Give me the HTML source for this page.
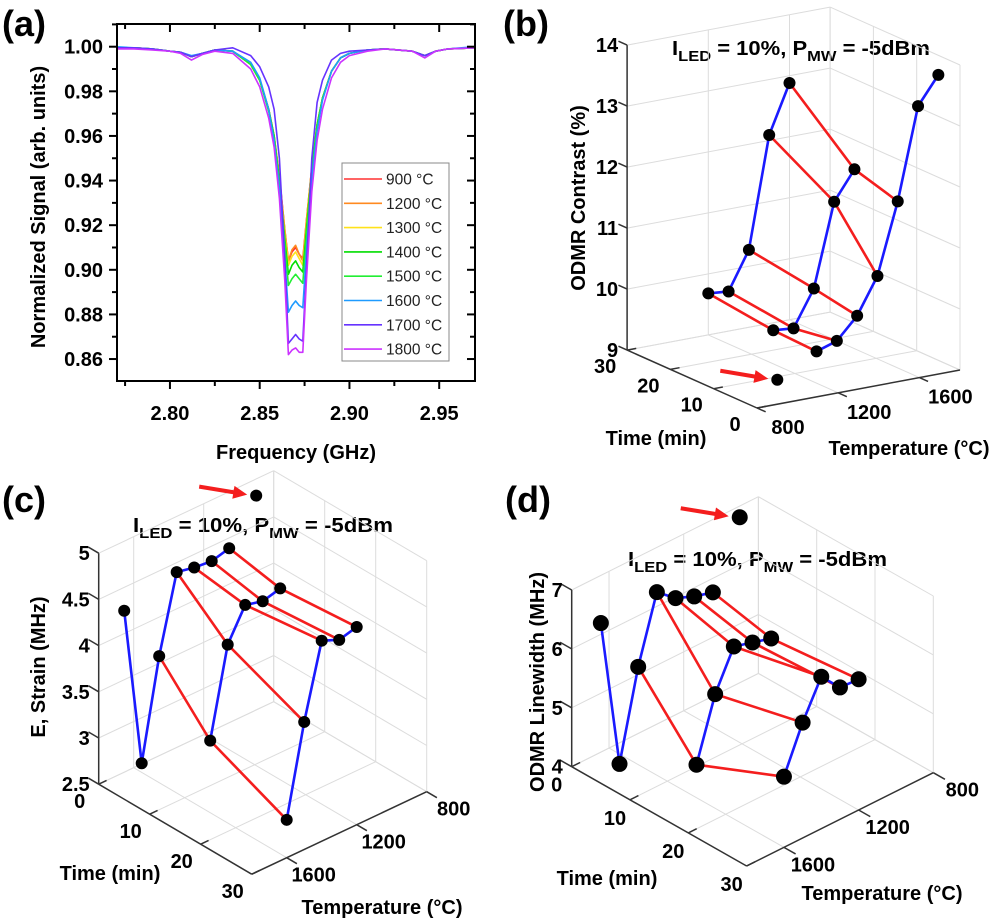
<!DOCTYPE html>
<html><head><meta charset="utf-8"><style>
html,body{margin:0;padding:0;background:#fff;}
svg{display:block;font-family:"Liberation Sans",Arial,sans-serif;}
</style></head><body>
<svg id="fig" width="996" height="921" viewBox="0 0 996 921" xmlns="http://www.w3.org/2000/svg">
<defs><clipPath id="clipA"><rect x="117" y="24" width="358" height="357"/></clipPath></defs>
<text x="2" y="36" font-size="36" font-weight="bold">(a)</text>
<text x="503" y="36" font-size="36" font-weight="bold">(b)</text>
<text x="2" y="512" font-size="36" font-weight="bold">(c)</text>
<text x="505" y="512" font-size="36" font-weight="bold">(d)</text>
<text x="296" y="459" font-size="20" font-weight="bold" text-anchor="middle">Frequency (GHz)</text>
<text x="0" y="0" transform="translate(45,207) rotate(-90)" font-size="20" font-weight="bold" text-anchor="middle">Normalized Signal (arb. units)</text>
<text x="672" y="55" font-size="20" font-weight="bold" textLength="258" lengthAdjust="spacingAndGlyphs">I<tspan dy="6" font-size="15">LED</tspan><tspan dy="-6"> = 10%, P</tspan><tspan dy="6" font-size="15">MW</tspan><tspan dy="-6"> = -5dBm</tspan></text>
<text x="133" y="532" font-size="20" font-weight="bold" textLength="260" lengthAdjust="spacingAndGlyphs">I<tspan dy="6" font-size="15">LED</tspan><tspan dy="-6"> = 10%, P</tspan><tspan dy="6" font-size="15">MW</tspan><tspan dy="-6"> = -5dBm</tspan></text>
<text x="628" y="566" font-size="20" font-weight="bold" textLength="259" lengthAdjust="spacingAndGlyphs">I<tspan dy="6" font-size="15">LED</tspan><tspan dy="-6"> = 10%, P</tspan><tspan dy="6" font-size="15">MW</tspan><tspan dy="-6"> = -5dBm</tspan></text>
<text transform="translate(585,198) rotate(-90)" font-size="20" font-weight="bold" text-anchor="middle">ODMR Contrast (%)</text>
<text x="656" y="445" font-size="20" font-weight="bold" text-anchor="middle">Time (min)</text>
<text x="909" y="455" font-size="20" font-weight="bold" text-anchor="middle">Temperature (°C)</text>
<text transform="translate(45,667) rotate(-90)" font-size="20" font-weight="bold" text-anchor="middle">E, Strain (MHz)</text>
<text x="110" y="880" font-size="20" font-weight="bold" text-anchor="middle">Time (min)</text>
<text x="382" y="914" font-size="20" font-weight="bold" text-anchor="middle">Temperature (°C)</text>
<text transform="translate(544,682) rotate(-90)" font-size="20" font-weight="bold" text-anchor="middle">ODMR Linewidth (MHz)</text>
<text x="607" y="885" font-size="20" font-weight="bold" text-anchor="middle">Time (min)</text>
<text x="882" y="900" font-size="20" font-weight="bold" text-anchor="middle">Temperature (°C)</text>
</svg>
<script>
// ---------- Panel (a) data ----------
const freqGHz=[2.770,2.780,2.790,2.800,2.806,2.812,2.818,2.825,2.835,2.845,2.850,2.855,2.858,2.861,2.864,2.866,2.868,2.870,2.872,2.874,2.876,2.879,2.882,2.885,2.890,2.895,2.900,2.910,2.920,2.935,2.942,2.948,2.955,2.970];
const s900 =[.9995,.9995,.999,.998,.9975,.9955,.997,.9985,.998,.992,.985,.972,.960,.942,.918,.904,.908,.910,.907,.905,.922,.946,.965,.977,.989,.995,.997,.9985,.999,.998,.996,.998,.999,.9995];
const s1200=[.9995,.9995,.999,.998,.9975,.9955,.997,.9985,.998,.992,.985,.972,.960,.942,.918,.904,.909,.911,.907,.904,.922,.946,.965,.977,.989,.995,.997,.9985,.999,.998,.996,.998,.999,.9995];
const s1300=[.9995,.9995,.999,.998,.9975,.9955,.997,.9985,.998,.992,.985,.972,.960,.941,.916,.902,.906,.908,.905,.902,.920,.946,.965,.977,.989,.995,.997,.9985,.999,.998,.996,.998,.999,.9995];
const s1400=[.9995,.9995,.999,.998,.9975,.9955,.997,.9985,.998,.992,.985,.972,.960,.940,.914,.898,.902,.904,.901,.899,.918,.945,.965,.977,.989,.995,.997,.9985,.999,.998,.996,.998,.999,.9995];
const s1500=[.9995,.9995,.999,.998,.9975,.9955,.997,.9985,.998,.992,.985,.971,.959,.939,.912,.893,.896,.898,.896,.894,.915,.944,.964,.977,.989,.995,.997,.9985,.999,.998,.996,.998,.999,.9995];
const s1600=[1.000,.9995,.999,.998,.9975,.9960,.997,.9985,.998,.993,.986,.972,.958,.936,.905,.881,.884,.886,.884,.883,.908,.940,.962,.976,.989,.995,.997,.9985,.999,.998,.996,.998,.999,1.000];
const s1700=[.9995,.9995,.999,.998,.9975,.9955,.997,.9985,.9995,.996,.991,.982,.972,.950,.905,.867,.869,.871,.869,.868,.900,.950,.975,.985,.994,.997,.998,.9985,.999,.998,.996,.998,.999,.9995];
const s1800=[.9990,.9990,.9985,.998,.997,.994,.9965,.998,.997,.990,.982,.968,.955,.932,.895,.862,.864,.865,.863,.863,.895,.935,.958,.972,.986,.993,.996,.998,.999,.998,.995,.998,.999,.9995];
const seriesA=[s900,s1200,s1300,s1400,s1500,s1600,s1700,s1800];
const seriesLabels=["900 °C","1200 °C","1300 °C","1400 °C","1500 °C","1600 °C","1700 °C","1800 °C"];
const yTicksA=[0.86,0.88,0.90,0.92,0.94,0.96,0.98,1.00];
const xTicksA=[2.80,2.85,2.90,2.95];

// ---------- Panels (b),(c),(d) data ----------
const annealTimes=[5,15,30];
const annealTemps=[1200,1300,1400,1500,1600,1700,1800];
const contrastT5=[9.52,9.63,9.98,10.57,11.73,13.23,13.68];
const contrastT15=[9.55,9.52,10.11,11.47,11.94];
const contrastT30=[9.68,9.65,10.27,12.09,12.88];
const contrastRef=[900,0,9.4];
const strainT5=[4.68,4.63,4.65,4.69,3.87,2.80,4.54];
const strainT15=[4.57,4.52,4.57,4.23,3.28];
const strainT30=[4.64,4.59,4.67,3.88,2.91];
const strainRef=[900,0,4.82];
const widthT5=[6.29,6.38,6.51,6.77,5.66,4.17,6.72];
const widthT15=[6.07,6.16,6.25,5.60,4.56];
const widthT30=[6.22,6.24,6.58,5.96,5.20];
const widthRef=[900,0,6.81];
const tempTickLabels=[800,1200,1600];
const timeTickLabels=[0,10,20,30];
const zTicksB=[9,10,11,12,13,14];
const zTicksC=[2.5,3,3.5,4,4.5,5];
const zTicksD=[4,5,6,7];

const NS='http://www.w3.org/2000/svg';
const svg=document.getElementById('fig');
function mk(tag,attrs,parent){const e=document.createElementNS(NS,tag);for(const k in attrs)e.setAttribute(k,attrs[k]);(parent||svg).appendChild(e);return e;}

// ---------- draw panel (a) ----------
const xA=f=>116.1+(f-2.77)*1795;
const yA=v=>46.7+(1.00-v)*2231;
const colorsA=["#ff3030","#ff8a20","#ffe21a","#00dd00","#22ee33","#1e9bff","#6633ff","#cc33ff"];
const gA=mk('g',{'clip-path':'url(#clipA)'});


seriesA.forEach((s,i)=>{
  const d=s.map((v,j)=>(j?'L':'M')+xA(freqGHz[j]).toFixed(1)+','+yA(v).toFixed(1)).join('');
  const p=mk('path',{d:d,fill:'none',stroke:colorsA[i],'stroke-width':1.6,'stroke-linejoin':'round'},gA);
  
  
});
const frameA=mk('rect',{x:117,y:24,width:358,height:357,fill:'none',stroke:'#000','stroke-width':2});


for(let v=0.86;v<=1.0101;v+=0.01){
  const y=yA(v);const major=Math.abs(Math.round(v*100)%2)===0;const L=major?8:5;
  const t1=mk('line',{x1:117-L,x2:117,y1:y,y2:y,stroke:'#000','stroke-width':2});
  
  
  const t2=mk('line',{x1:475-L,x2:475,y1:y,y2:y,stroke:'#000','stroke-width':2});
  
  
}
yTicksA.forEach(v=>{
  const t=mk('text',{x:103,y:yA(v)+7,'font-size':20,'font-weight':'bold','text-anchor':'end'});t.textContent=v.toFixed(2);
  
  
});
for(let f=2.775;f<2.97;f+=0.025){
  const x=xA(f);const major=Math.abs(Math.round(f*1000)%50)===0;const L=major?8:5;
  const t1=mk('line',{x1:x,x2:x,y1:381,y2:381+L,stroke:'#000','stroke-width':2});
  
  
  const t2=mk('line',{x1:x,x2:x,y1:24,y2:24+L,stroke:'#000','stroke-width':2});
  
  
}
xTicksA.forEach(f=>{
  const t=mk('text',{x:xA(f),y:420,'font-size':20,'font-weight':'bold','text-anchor':'middle'});t.textContent=f.toFixed(2);
  
  
});
const leg=mk('g',{});


const legBox=mk('rect',{x:342,y:163,width:107,height:198,fill:'#fff',stroke:'#888','stroke-width':1},leg);


seriesLabels.forEach((lab,i)=>{
  const y=179+i*24.3;
  const ln=mk('line',{x1:344,x2:382,y1:y,y2:y,stroke:colorsA[i],'stroke-width':1.6},leg);
  
  
  const t=mk('text',{x:386,y:y+5.5,'font-size':15.5,fill:'#222'},leg);t.textContent=lab;
  
  
});

// ---------- 3D panels ----------
function P(p,T,t,z){return [p.ox+p.aT*(T-800)+p.at*t, p.oy+p.bT*(T-800)+p.bt*t-p.zs*(z-p.z0)];}
function seg(p,a,b,attrs,name){const A=P(p,...a),B=P(p,...b);const l=mk('line',Object.assign({x1:A[0],y1:A[1],x2:B[0],y2:B[1]},attrs));return l;}
function draw3d(p,vals,ref,zTicks){
  const g={stroke:'#dcdcdc','stroke-width':1};
  const Tg=[800,1200,1600,1800], tg=[0,10,20,30];
  Tg.forEach(T=>{seg(p,[T,p.wallt,p.z0],[T,p.wallt,p.z1],g,'grid-line');seg(p,[T,0,p.z0],[T,30,p.z0],g,'grid-line');});
  tg.forEach(t=>{seg(p,[p.wallT,t,p.z0],[p.wallT,t,p.z1],g,'grid-line');seg(p,[800,t,p.z0],[1800,t,p.z0],g,'grid-line');});
  zTicks.forEach(z=>{seg(p,[800,p.wallt,z],[1800,p.wallt,z],g,'grid-line');seg(p,[p.wallT,0,z],[p.wallT,30,z],g,'grid-line');});
  const ax={stroke:'#333','stroke-width':1.5};
  seg(p,[p.zT,p.zt,p.z0],[p.zT,p.zt,p.z1],ax,'z-axis');
  seg(p,[p.timeT,0,p.z0],[p.timeT,30,p.z0],ax,'time-axis');
  seg(p,[800,p.tempt,p.z0],[1800,p.tempt,p.z0],ax,'temperature-axis');
  zTicks.forEach(z=>{
    const q=P(p,p.zT,p.zt,z);
    seg(p,[p.zT,p.zt,z],[p.zT,p.zt+p.ztDir*2,z],ax,'z-tick');
    const t=mk('text',{x:q[0]-9,y:q[1]+7,'font-size':20,'font-weight':'bold','text-anchor':'end'});t.textContent=String(z);
    
    
  });
  timeTickLabels.forEach(tv=>{
    const q=P(p,p.timeT,tv,p.z0);
    seg(p,[p.timeT,tv,p.z0],[p.timeT+p.tTickDir*45,tv,p.z0],ax,'time-tick');
    const t=mk('text',{x:q[0]+p.tOff[0],y:q[1]+p.tOff[1]+7,'font-size':20,'font-weight':'bold','text-anchor':'middle'});t.textContent=String(tv);
    
    
  });
  tempTickLabels.forEach(Tv=>{
    const q=P(p,Tv,p.tempt,p.z0);
    seg(p,[Tv,p.tempt,p.z0],[Tv,p.tempt+p.TTickDir*2,p.z0],ax,'temperature-tick');
    const t=mk('text',{x:q[0]+p.TOff[0],y:q[1]+p.TOff[1]+7,'font-size':20,'font-weight':'bold','text-anchor':'middle'});t.textContent=String(Tv);
    
    
  });
  const red={stroke:'#f41e1e','stroke-width':2.6,'stroke-linecap':'round'};
  const blue={stroke:'#1a1aff','stroke-width':2.6,'stroke-linecap':'round'};
  for(let k=0;k<5;k++){
    for(let m=0;m<2;m++){
      seg(p,[annealTemps[k],annealTimes[m],vals[m][k]],[annealTemps[k],annealTimes[m+1],vals[m+1][k]],red,'temperature-link');
    }
  }
  vals.forEach((v,m)=>{
    for(let k=0;k<v.length-1;k++) seg(p,[annealTemps[k],annealTimes[m],v[k]],[annealTemps[k+1],annealTimes[m],v[k+1]],blue,'time-series-line');
  });
  vals.forEach((v,m)=>v.forEach((z,k)=>{
    const q=P(p,annealTemps[k],annealTimes[m],z);
    const c=mk('circle',{cx:q[0],cy:q[1],r:p.r,fill:'#000'});
    
    
  }));
  const q=P(p,ref[0],ref[1],ref[2]);
  const c=mk('circle',{cx:q[0],cy:q[1],r:p.r,fill:'#000'});
  
  
  const ex=q[0]-p.r-3, ey=q[1]-1, sx=ex-48, sy=ey-8;
  const ang=Math.atan2(ey-sy,ex-sx), ca=Math.cos(ang), sa=Math.sin(ang);
  const hx=ex-14*ca, hy=ey-14*sa;
  const pts=[[sx-2*sa,sy+2*ca],[hx-2*sa,hy+2*ca],[hx-6.5*sa,hy+6.5*ca],[ex,ey],[hx+6.5*sa,hy-6.5*ca],[hx+2*sa,hy-2*ca],[sx+2*sa,sy-2*ca]];
  const a=mk('polygon',{points:pts.map(v=>v[0].toFixed(1)+','+v[1].toFixed(1)).join(' '),fill:'#f41e1e'});
  
  
}
const projB={ox:757,oy:408,aT:0.203,at:-4.33,bT:-0.038,bt:-1.93,zs:61,z0:9,z1:14,wallT:1800,wallt:30,zT:800,zt:30,ztDir:1,timeT:800,tTickDir:1,tempt:0,TTickDir:-1,tOff:[-22,16],TOff:[31,19],r:6};
const projC={ox:273.7,oy:701.7,aT:-0.175,at:5.1,bT:0.0825,bt:3.0,zs:92.4,z0:2.5,z1:5,wallT:800,wallt:0,zT:1800,zt:0,ztDir:-1,timeT:1800,tTickDir:-1,tempt:30,TTickDir:1,tOff:[-19,17],TOff:[27,17],r:6};
const projD={ox:758.4,oy:673.4,aT:-0.1867,at:5.83,bT:0.0933,bt:3.31,zs:58.9,z0:4,z1:7,wallT:800,wallt:0,zT:1800,zt:0,ztDir:-1,timeT:1800,tTickDir:-1,tempt:30,TTickDir:1,tOff:[-15,18],TOff:[29,17],r:8};
draw3d(projB,[contrastT5,contrastT15,contrastT30],contrastRef,zTicksB);
draw3d(projC,[strainT5,strainT15,strainT30],strainRef,zTicksC);
draw3d(projD,[widthT5,widthT15,widthT30],widthRef,zTicksD);
</script>
</body></html>
